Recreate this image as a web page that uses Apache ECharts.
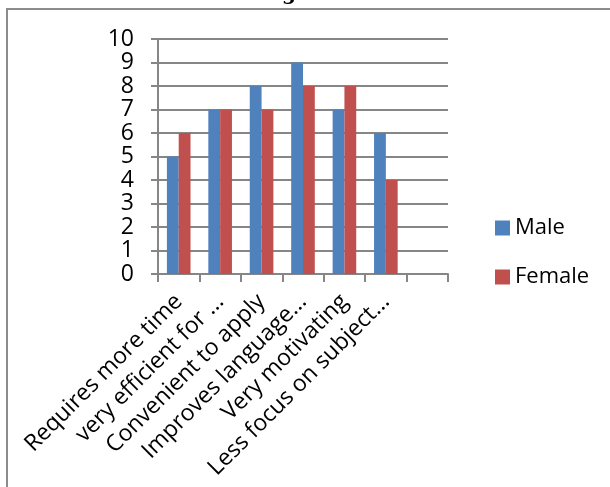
<!DOCTYPE html>
<html>
<head>
<meta charset="utf-8">
<script src="https://cdn.jsdelivr.net/npm/echarts@6/dist/echarts.min.js"></script>
<style>
  html, body { margin: 0; padding: 0; background: #fff; }
  #chart { width: 610px; height: 487px; }
</style>
</head>
<body>
<div id="chart"></div>
<script>
// == Data ====================================================================
const categories = [
  'Requires more time',
  'very efficient for ...',
  'Convenient to apply',
  'Improves language...',
  'Very motivating',
  'Less focus on subject...',
  ''
]
const maleValues = [5, 7, 8, 9, 7, 6, '-']
const femaleValues = [6, 7, 7, 8, 8, 4, '-']
const yTicks = [0, 1, 2, 3, 4, 5, 6, 7, 8, 9, 10]

// == Chart ===================================================================
const font = 'Open Sans'
const axisGray = '#868686'

const option = {
  animation: false,
  textStyle: {fontFamily: font},
  graphic: [
    {
      type: 'rect',
      shape: {x: 7, y: 9, width: 700, height: 600},
      style: {fill: 'none', stroke: '#8c8c8c', lineWidth: 2}
    },
    {
      type: 'text',
      left: 282,
      top: -15,
      style: {text: 'g', font: 'bold 20px "DejaVu Serif"', fill: '#000'}
    }
  ],
  legend: {
    orient: 'vertical',
    left: 490,
    top: 212,
    itemWidth: 15,
    itemHeight: 15,
    itemGap: 27,
    icon: 'rect',
    textStyle: {fontSize: 22, color: '#000', fontFamily: font},
    data: ['Male', 'Female']
  },
  grid: {left: 158, right: 162, top: 39, bottom: 213, containLabel: false},
  xAxis: {
    type: 'category',
    data: categories,
    axisLine: {lineStyle: {color: axisGray, width: 2}},
    axisTick: {show: true, length: 8, lineStyle: {color: axisGray, width: 2}},
    axisLabel: {
      rotate: 45,
      interval: 0,
      margin: 24,
      fontSize: 23,
      color: '#000',
      fontFamily: font
    },
    splitLine: {show: false}
  },
  yAxis: {
    type: 'value',
    min: 0,
    max: 10,
    interval: 1,
    axisLine: {show: true, lineStyle: {color: axisGray, width: 2}},
    axisTick: {show: true, length: 7, lineStyle: {color: axisGray, width: 2}},
    axisLabel: {
      fontSize: 23,
      color: '#000',
      margin: 24,
      fontFamily: font,
      formatter: v => yTicks.includes(v) ? String(v) : ''
    },
    splitLine: {lineStyle: {color: axisGray, width: 2}}
  },
  series: [
    {
      name: 'Male',
      type: 'bar',
      data: maleValues,
      barGap: '0%',
      barCategoryGap: '43%',
      itemStyle: {color: '#4F81BD'}
    },
    {
      name: 'Female',
      type: 'bar',
      data: femaleValues,
      itemStyle: {color: '#C0504D'}
    }
  ]
}

const myChart = echarts.init(document.getElementById('chart'), null, {renderer: 'canvas'})
myChart.setOption(option)
</script>
</body>
</html>
